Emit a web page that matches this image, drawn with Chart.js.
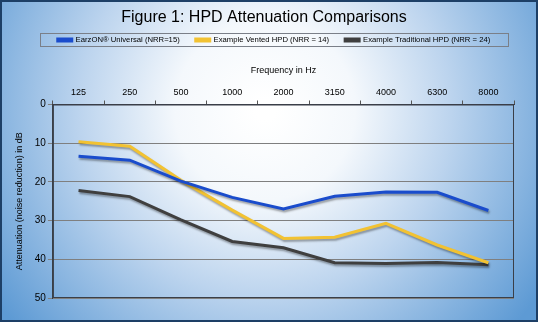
<!DOCTYPE html>
<html>
<head>
<meta charset="utf-8">
<script src="https://cdn.jsdelivr.net/npm/chart.js@4.4.1/dist/chart.umd.min.js"></script>
<style>
  html, body { margin: 0; padding: 0; background: #fff; }
  #wrap { width: 538px; height: 322px; }
</style>
</head>
<body>
<div id="wrap"><canvas id="chart" width="538" height="322"></canvas></div>
<script>
const frequencies = ['125', '250', '500', '1000', '2000', '3150', '4000', '6300', '8000'];
const eazonValues = [13.4, 14.4, 19.8, 24.0, 27.0, 23.7, 22.6, 22.7, 27.4];
const ventedValues = [9.6, 10.8, 19.6, 27.3, 34.6, 34.3, 30.7, 36.3, 40.9];
const traditionalValues = [22.2, 23.8, 29.8, 35.4, 37.0, 40.9, 41.1, 40.8, 41.4];
const seriesNames = ['EarzON® Universal (NRR=15)', 'Example Vented HPD (NRR = 14)', 'Example Traditional HPD (NRR = 24)'];

const font = 'Arial, "Liberation Sans", sans-serif';

// gradient backdrop + outer frame
const backdrop = {
    id: 'backdrop',
    afterLayout(c) {
        // nudge legend to the right like the original
        c.legend.left += 10;
        c.legend.right += 10;
    },
    beforeDraw(c) {
        const ctx = c.ctx;
        const w = c.width, h = c.height;
        ctx.save();
        const g = ctx.createRadialGradient(265, 110, 10, 265, 110, 330);
        g.addColorStop(0, '#ffffff');
        g.addColorStop(0.25, '#f4f8fc');
        g.addColorStop(0.55, '#bcd4ee');
        g.addColorStop(1, '#5d9ad4');
        ctx.fillStyle = g;
        ctx.fillRect(0, 0, w, h);
        ctx.strokeStyle = '#1d3f66';
        ctx.lineWidth = 2;
        ctx.strokeRect(1, 1, w - 2, h - 2);
        ctx.restore();
    },
    beforeDatasetsDraw(c) {
        const ctx = c.ctx;
        ctx.save();
        ctx.shadowColor = 'rgba(0,0,0,0.35)';
        ctx.shadowBlur = 2;
        ctx.shadowOffsetX = 1;
        ctx.shadowOffsetY = 2;
    },
    afterDatasetsDraw(c) {
        c.ctx.restore();
    },
    afterDraw(c) {
        const ctx = c.ctx;
        const a = c.chartArea;
        ctx.save();
        ctx.strokeStyle = '#3a3f48';
        ctx.lineWidth = 1;
        ctx.strokeRect(a.left + 0.5, a.top + 0.5, a.right - a.left - 1, a.bottom - a.top - 1);
        // legend frame
        ctx.strokeStyle = '#7a7f88';
        ctx.strokeRect(40.5, 33.5, 468, 13);
        ctx.restore();
    }
};

new Chart(document.getElementById('chart'), {
    type: 'line',
    data: {
        labels: frequencies,
        datasets: [
            { label: seriesNames[0], data: eazonValues, borderColor: '#1a4ccc', backgroundColor: '#1a4ccc' },
            { label: seriesNames[1], data: ventedValues, borderColor: '#f2c232', backgroundColor: '#f2c232' },
            { label: seriesNames[2], data: traditionalValues, borderColor: '#3f3f3f', backgroundColor: '#3f3f3f' }
        ].map(d => Object.assign(d, { borderWidth: 3, pointRadius: 0, fill: false, tension: 0 }))
    },
    options: {
        responsive: false,
        animation: false,
        layout: { padding: { left: 14, right: 24, top: 0, bottom: 24 } },
        plugins: {
            title: {
                display: true,
                text: 'Figure 1: HPD Attenuation Comparisons',
                color: '#000',
                font: { family: font, size: 16, weight: 'normal' },
                padding: { top: 8, bottom: -7 }
            },
            legend: {
                position: 'top',
                labels: {
                    color: '#000',
                    font: { family: font, size: 7.7 },
                    boxWidth: 14,
                    boxHeight: 2,
                    padding: 16
                }
            },
            tooltip: { enabled: false }
        },
        scales: {
            x: {
                position: 'top',
                offset: true,
                title: {
                    display: true,
                    text: 'Frequency in Hz',
                    color: '#000',
                    font: { family: font, size: 9 },
                    padding: { top: 11, bottom: 8 }
                },
                ticks: { color: '#000', font: { family: font, size: 9 }, padding: 3 },
                grid: { offset: true, drawOnChartArea: false, tickLength: 4, color: '#555' },
                border: { color: '#3a3f48' }
            },
            y: {
                reverse: true,
                min: 0,
                max: 50,
                ticks: { stepSize: 10, color: '#000', font: { family: font, size: 10 }, padding: 2 },
                title: {
                    display: true,
                    text: 'Attenuation (noise reduction) in dB',
                    color: '#000',
                    font: { family: font, size: 9 },
                    padding: { top: 0, bottom: 8 }
                },
                grid: { color: '#7f7f7f', tickLength: 5 },
                border: { color: '#3a3f48' }
            }
        }
    },
    plugins: [backdrop]
});
</script>
</body>
</html>
